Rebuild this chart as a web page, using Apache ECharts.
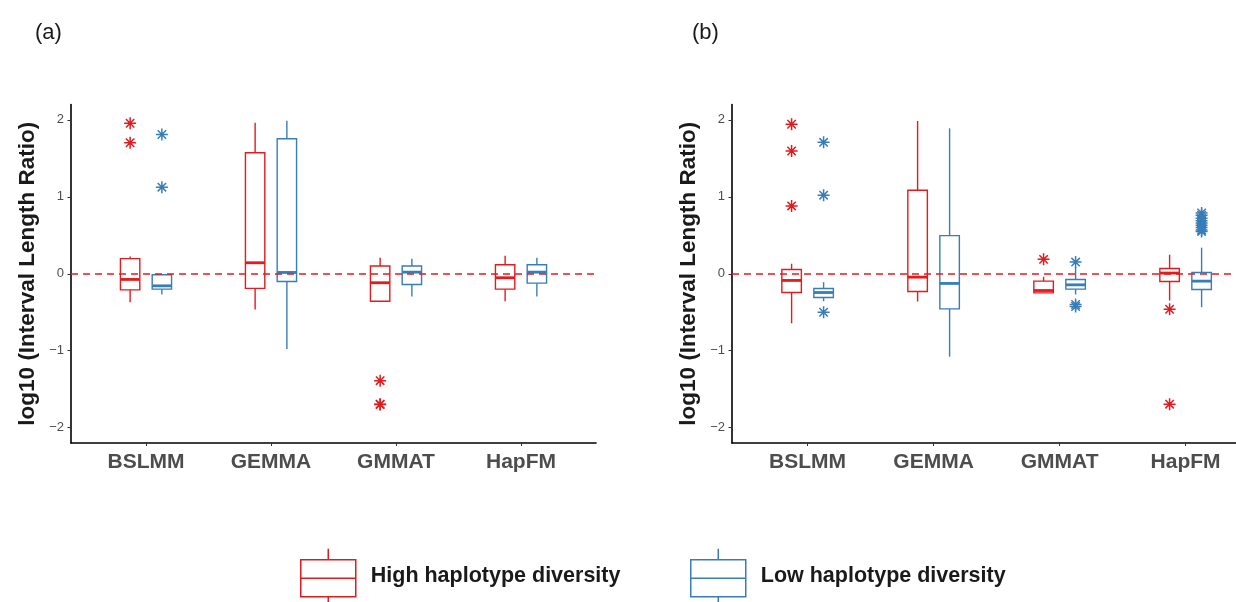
<!DOCTYPE html>
<html>
<head>
<meta charset="utf-8">
<script src="https://cdn.jsdelivr.net/npm/echarts@6/dist/echarts.min.js"></script>
<style>
  html, body { margin: 0; padding: 0; background: #fff; }
  #main { width: 1236px; height: 602px; }
</style>
</head>
<body>
<div id="main"></div>
<script>
var categories = ['BSLMM', 'GEMMA', 'GMMAT', 'HapFM'];
var yTicks = [-2, -1, 0, 1, 2];
var xTicks = [1, 2, 3, 4];

// box stats per category: [lower whisker, Q1, median, Q3, upper whisker]
var boxHighA = [
  [-0.37, -0.209, -0.074, 0.196, 0.225],
  [-0.465, -0.19, 0.143, 1.573, 1.964],
  [-0.36, -0.357, -0.117, 0.10, 0.209],
  [-0.357, -0.20, -0.052, 0.117, 0.235]
];
var boxLowA = [
  [-0.27, -0.20, -0.157, -0.013, -0.01],
  [-0.978, -0.10, 0.017, 1.755, 1.99],
  [-0.296, -0.14, 0.021, 0.10, 0.196],
  [-0.296, -0.122, 0.021, 0.117, 0.209]
];
var boxHighB = [
  [-0.644, -0.244, -0.087, 0.056, 0.13],
  [-0.361, -0.231, -0.044, 1.086, 1.986],
  [-0.248, -0.248, -0.218, -0.096, -0.04],
  [-0.348, -0.10, 0.009, 0.069, 0.247]
];
var boxLowB = [
  [-0.357, -0.309, -0.244, -0.192, -0.109],
  [-1.078, -0.457, -0.126, 0.495, 1.89],
  [-0.27, -0.20, -0.144, -0.074, 0.087],
  [-0.435, -0.205, -0.096, 0.017, 0.339]
];

// outliers: [category index, value]
var outHighA = [[0, 1.956], [0, 1.703], [2, -1.39], [2, -1.695], [2, -1.70]];
var outLowA = [[0, 1.81], [0, 1.125]];
var outHighB = [[0, 1.943], [0, 1.595], [0, 0.882], [2, 0.187], [3, -0.461], [3, -1.695]];
var outLowB = [[0, 1.708], [0, 1.021], [0, -0.5], [2, 0.152], [2, -0.40], [2, -0.426],
  [3, 0.79], [3, 0.76], [3, 0.72], [3, 0.69], [3, 0.66], [3, 0.63], [3, 0.60], [3, 0.57], [3, 0.55]];

var RED = '#E41A1C';
var BLUE = '#377EB8';
var HIGH = 'High haplotype diversity';
var LOW = 'Low haplotype diversity';
var DODGE = 0.127;
var BOX_W = 0.155;
var ASTER = 'path://M5,0L5,10M0,5L10,5M1.5,1.5L8.5,8.5M1.5,8.5L8.5,1.5';
var LEG_ICON = 'path://M27.5,0L27.5,11M0,11L55,11L55,48L0,48ZM0,29.5L55,29.5M27.5,48L27.5,54';

function boxRenderer(color) {
  return function (params, api) {
    var x = api.value(0);
    var lo = api.coord([x, api.value(1)]);
    var q1 = api.coord([x, api.value(2)]);
    var med = api.coord([x, api.value(3)]);
    var q3 = api.coord([x, api.value(4)]);
    var hi = api.coord([x, api.value(5)]);
    var half = api.size([BOX_W, 0])[0] / 2;
    var st = { stroke: color, lineWidth: 1.4, fill: 'none' };
    return {
      type: 'group',
      children: [
        { type: 'line', shape: { x1: hi[0], y1: hi[1], x2: q3[0], y2: q3[1] }, style: st },
        { type: 'line', shape: { x1: q1[0], y1: q1[1], x2: lo[0], y2: lo[1] }, style: st },
        { type: 'rect', shape: { x: q3[0] - half, y: q3[1], width: half * 2, height: q1[1] - q3[1] }, style: st },
        { type: 'line', shape: { x1: med[0] - half, y1: med[1], x2: med[0] + half, y2: med[1] },
          style: { stroke: color, lineWidth: 2.8 } }
      ]
    };
  };
}

function boxSeries(name, stats, shift, color, g) {
  return {
    name: name,
    type: 'custom',
    xAxisIndex: g,
    yAxisIndex: g,
    itemStyle: { color: color },
    encode: { x: 0, y: [1, 2, 3, 4, 5] },
    renderItem: boxRenderer(color),
    data: stats.map(function (b, i) { return [i + 1 + shift].concat(b); }),
    z: 2
  };
}

function outlierSeries(name, pts, shift, color, g, withZero) {
  var s = {
    name: name,
    type: 'scatter',
    xAxisIndex: g,
    yAxisIndex: g,
    symbol: ASTER,
    symbolSize: 12,
    itemStyle: { color: 'rgba(0,0,0,0)', borderColor: color, borderWidth: 1.5, opacity: 1 },
    data: pts.map(function (p) { return [p[0] + 1 + shift, p[1]]; }),
    z: 3
  };
  if (withZero) {
    s.markLine = {
      silent: true,
      symbol: ['none', 'none'],
      label: { show: false },
      lineStyle: { color: RED, type: [7, 5], width: 1.5 },
      data: [{ yAxis: 0 }],
      z: 4
    };
  }
  return s;
}

function yAxisFor(g) {
  return {
    gridIndex: g,
    type: 'value',
    min: -2.2,
    max: 2.2,
    name: 'log10 (Interval Length Ratio)',
    nameLocation: 'middle',
    nameGap: 32,
    nameTextStyle: { fontSize: 22.5, fontWeight: 'bold', color: '#1a1a1a' },
    axisLine: { show: true, lineStyle: { color: '#000', width: 1.6 } },
    axisTick: { show: true, customValues: yTicks, length: 3.5, lineStyle: { color: '#333' } },
    axisLabel: {
      customValues: yTicks, color: '#4d4d4d', fontSize: 13, margin: 7,
      formatter: function (v) { return v < 0 ? '\u2212' + (-v) : String(v); }
    },
    splitLine: { show: false }
  };
}

function xAxisFor(g, max) {
  return {
    gridIndex: g,
    type: 'value',
    min: 0.4,
    max: max,
    axisLine: { show: true, onZero: false, lineStyle: { color: '#000', width: 1.6 } },
    axisTick: { show: true, customValues: xTicks, length: 3, lineStyle: { color: '#333' } },
    axisLabel: {
      customValues: xTicks, color: '#4d4d4d', fontSize: 21, fontWeight: 'bold', margin: 9,
      formatter: function (v) { return categories[Math.round(v) - 1]; }
    },
    splitLine: { show: false }
  };
}

function legendFor(name, color, left) {
  return {
    data: [{ name: name, icon: LEG_ICON,
      itemStyle: { color: 'rgba(0,0,0,0)', borderColor: color, borderWidth: 1.5 } }],
    left: left,
    top: 548,
    padding: 0,
    itemWidth: 55,
    itemHeight: 54,
    selectedMode: false,
    textStyle: { fontSize: 21.5, fontWeight: 'bold', color: '#1a1a1a', padding: [0, 0, 0, 10] }
  };
}

var chart = echarts.init(document.getElementById('main'));
chart.setOption({
  animation: false,
  backgroundColor: '#fff',
  title: [
    { text: '(a)', left: 35, top: 22, padding: 0, textStyle: { fontSize: 22, fontWeight: 'normal', color: '#1a1a1a' } },
    { text: '(b)', left: 692, top: 22, padding: 0, textStyle: { fontSize: 22, fontWeight: 'normal', color: '#1a1a1a' } }
  ],
  legend: [legendFor(HIGH, RED, 300), legendFor(LOW, BLUE, 690)],
  grid: [
    { left: 71, width: 525, top: 104.5, height: 338.5 },
    { left: 732, right: 0, top: 104.5, height: 338.5 }
  ],
  xAxis: [xAxisFor(0, 4.6), xAxisFor(1, 4.4)],
  yAxis: [yAxisFor(0), yAxisFor(1)],
  series: [
    boxSeries(HIGH, boxHighA, -DODGE, RED, 0),
    boxSeries(LOW, boxLowA, DODGE, BLUE, 0),
    boxSeries(HIGH, boxHighB, -DODGE, RED, 1),
    boxSeries(LOW, boxLowB, DODGE, BLUE, 1),
    outlierSeries(HIGH, outHighA, -DODGE, RED, 0, true),
    outlierSeries(LOW, outLowA, DODGE, BLUE, 0, false),
    outlierSeries(HIGH, outHighB, -DODGE, RED, 1, true),
    outlierSeries(LOW, outLowB, DODGE, BLUE, 1, false)
  ]
});
</script>
</body>
</html>
